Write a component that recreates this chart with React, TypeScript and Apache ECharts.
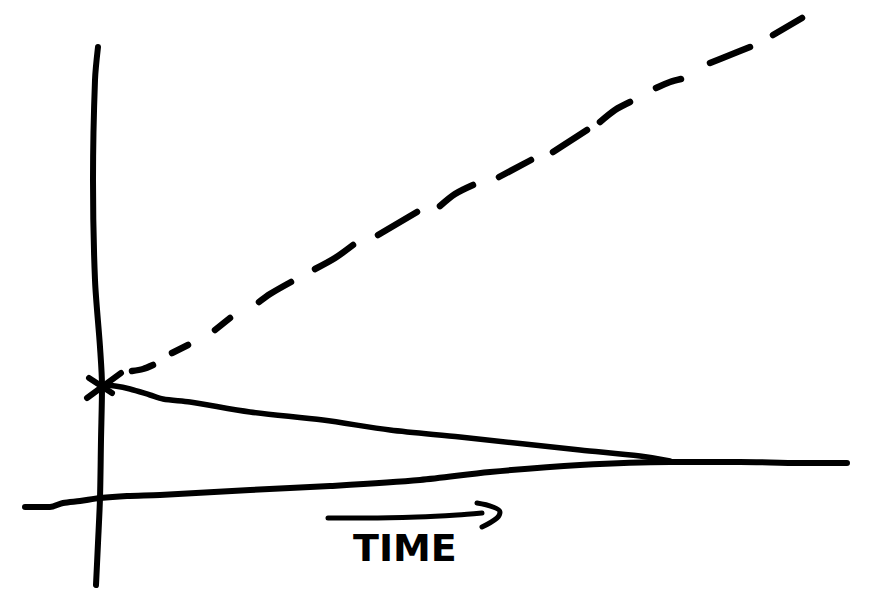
import React, { useEffect, useRef } from "react";
import * as echarts from "echarts";

// Hand-drawn sketch, coordinates in sketch units (x to the right, y downward)
const verticalAxis: number[][] = [
  [98, 47], [95, 80], [93, 180], [95, 280], [100, 347], [102, 386], [101, 440], [100, 498], [98, 543], [96, 585],
];
const horizontalAxis: number[][] = [
  [25, 507], [50, 507], [63, 503], [80, 501], [100, 498], [127, 496], [160, 495], [250, 490], [330, 486],
  [420, 480], [490, 472], [580, 465], [670, 462], [740, 462], [800, 463], [847, 463],
];
const decayCurve: number[][] = [
  [103, 385], [115, 386], [130, 389], [150, 395], [163, 399], [190, 402], [250, 412], [323, 420],
  [390, 430], [460, 437], [580, 450], [640, 456], [670, 461],
];
const markerStrokeA: number[][] = [[87, 398], [121, 373]];
const markerStrokeB: number[][] = [[89, 378], [112, 393]];
const growthDashes: number[][][] = [
  [[132, 371], [143, 369], [153, 365]],
  [[172, 353], [188, 345]],
  [[215, 330], [230, 318]],
  [[259, 302], [270, 294], [291, 282]],
  [[315, 269], [335, 258], [353, 245]],
  [[378, 235], [417, 212]],
  [[440, 206], [455, 194], [473, 185]],
  [[499, 177], [531, 160]],
  [[553, 152], [570, 141], [587, 130]],
  [[600, 122], [615, 110], [630, 102]],
  [[656, 88], [670, 82], [681, 79]],
  [[710, 63], [730, 55], [750, 47]],
  [[773, 35], [802, 18]],
];
const arrowShaft: number[][] = [[328, 518], [367, 518], [417, 517], [457, 515], [482, 513]];
const arrowHead: number[][] = [[477, 503], [493, 507], [500, 512], [497, 518], [482, 527]];
const axisLabel = "TIME";

const W = 879;
const H = 605;

function stroke(data: number[][], width = 6, smooth: number | boolean = 0.3) {
  return {
    type: "line",
    data,
    showSymbol: false,
    symbol: "none",
    smooth,
    silent: true,
    lineStyle: { color: "#000", width, cap: "round", join: "round" },
  };
}

export default function App() {
  const ref = useRef<HTMLDivElement>(null);
  useEffect(() => {
    if (!ref.current) return;
    const chart = echarts.init(ref.current, undefined, { renderer: "svg" });
    const series: any[] = [
      stroke(verticalAxis, 6),
      stroke(horizontalAxis, 6),
      stroke(decayCurve, 5.5),
      stroke(markerStrokeA, 6, false),
      stroke(markerStrokeB, 6, false),
      ...growthDashes.map((d) => stroke(d, 6.5)),
      stroke(arrowShaft, 5, 0.3),
      stroke(arrowHead, 5, 0.4),
    ];
    chart.setOption({
      animation: false,
      backgroundColor: "#fff",
      grid: { left: 0, right: 0, top: 0, bottom: 0 },
      xAxis: { type: "value", min: 0, max: W, show: false },
      yAxis: { type: "value", min: 0, max: H, inverse: true, show: false },
      series,
      graphic: [
        {
          type: "text",
          left: 353,
          top: 529,
          style: {
            text: axisLabel,
            fill: "#000",
            font: "bold 38px 'DejaVu Sans'",
          },
        },
      ],
    });
    return () => chart.dispose();
  }, []);
  return (
    <div
      ref={ref}
      style={{ position: "fixed", left: 0, top: 0, width: W, height: H, background: "#fff" }}
    />
  );
}
